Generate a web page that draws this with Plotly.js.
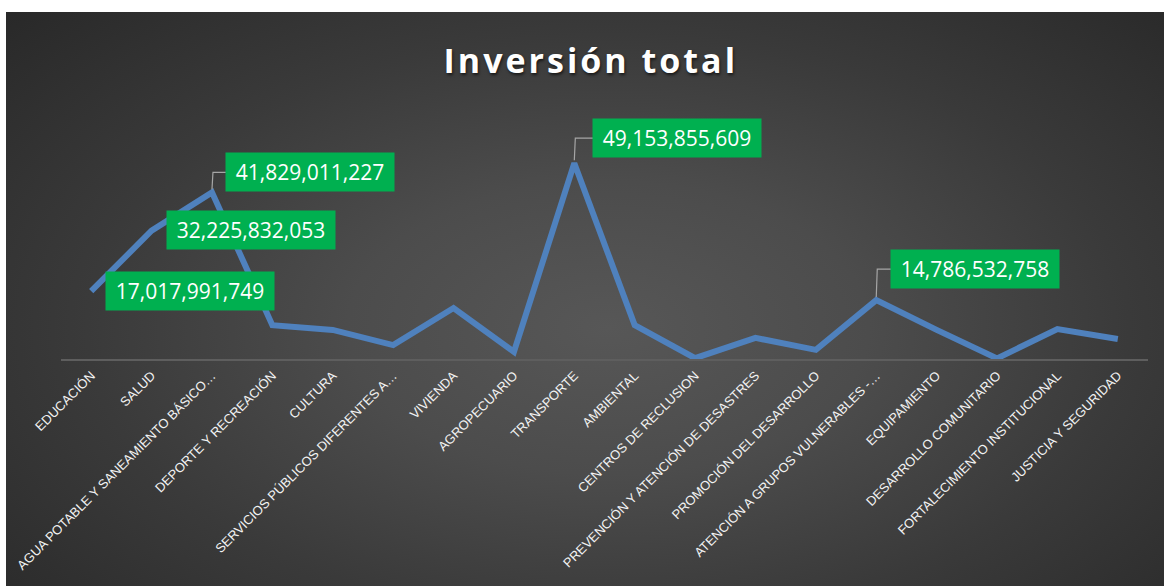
<!DOCTYPE html>
<html>
<head>
<meta charset="utf-8">
<script src="https://cdn.plot.ly/plotly-3.0.1.min.js"></script>
<style>
  html, body { margin: 0; padding: 0; background: #ffffff; width: 1165px; height: 586px; overflow: hidden; }
  #chart {
    position: absolute; left: 6px; top: 12px; width: 1158px; height: 574px;
    background: radial-gradient(ellipse 75% 85% at 52% 55%, #575757 0%, #4c4c4c 30%, #3a3a3a 60%, #262626 100%);
  }
  #chart .gtitle { letter-spacing: 3px; text-shadow: 1px 2px 3px rgba(0,0,0,0.6); }
</style>
</head>
<body>
<div id="chart"></div>
<script>
// Data
const categories = [
  "EDUCACIÓN", "SALUD", "AGUA POTABLE Y SANEAMIENTO BÁSICO…", "DEPORTE Y RECREACIÓN",
  "CULTURA", "SERVICIOS PÚBLICOS DIFERENTES A…", "VIVIENDA", "AGROPECUARIO",
  "TRANSPORTE", "AMBIENTAL", "CENTROS DE RECLUSION", "PREVENCIÓN Y ATENCIÓN DE DESASTRES",
  "PROMOCIÓN DEL DESARROLLO", "ATENCIÓN A GRUPOS VULNERABLES -…", "EQUIPAMIENTO",
  "DESARROLLO COMUNITARIO", "FORTALECIMIENTO INSTITUCIONAL", "JUSTICIA Y SEGURIDAD"
];
const values = [
  17017991749, 32225832053, 41829011227, 8500000000,
  7300000000, 3500000000, 12800000000, 1800000000,
  49153855609, 8500000000, 200000000, 5300000000,
  2300000000, 14786532758, 7300000000,
  150000000, 7500000000, 5000000000
];
// Categories that carry a data label, with label offsets (pixels) and whether a leader line is drawn
const labelCats = ["EDUCACIÓN", "SALUD", "AGUA POTABLE Y SANEAMIENTO BÁSICO…", "TRANSPORTE", "ATENCIÓN A GRUPOS VULNERABLES -…"];
const labelDx = [99, 99, 98, 103, 99];
const labelDy = [0, 1, 20, 25, 31];
const labelLeader = [false, false, true, true, true];

function fmt(v) { return v.toLocaleString('en-US'); }

const trace = {
  type: 'scatter', mode: 'lines',
  x: categories, y: values,
  line: { color: '#4F81BD', width: 6 },
  hoverinfo: 'x+y'
};

const annotations = [];
const shapes = [];
labelCats.forEach((c, i) => {
  const idx = categories.indexOf(c);
  const v = values[idx];
  annotations.push({
    x: c, y: v, xref: 'x', yref: 'y',
    text: fmt(v), showarrow: false,
    xshift: labelDx[i], yshift: labelDy[i],
    bgcolor: '#00B050', borderpad: 6, width: 156, height: 26,
    font: { family: 'Open Sans, sans-serif', size: 21, color: '#ffffff' }
  });
  if (labelLeader[i]) {
    const boxLeft = labelDx[i] - 84;
    shapes.push({
      type: 'path', xref: 'x', yref: 'y',
      xsizemode: 'pixel', ysizemode: 'pixel',
      xanchor: c, yanchor: v,
      path: 'M 0,3 L 1,' + labelDy[i] + ' L ' + boxLeft + ',' + labelDy[i],
      line: { color: '#a6a6a6', width: 1.2 }
    });
  }
});

const layout = {
  width: 1158, height: 574,
  paper_bgcolor: 'rgba(0,0,0,0)', plot_bgcolor: 'rgba(0,0,0,0)',
  margin: { l: 55, r: 16, t: 108, b: 227 },
  title: {
    text: 'Inversión total',
    font: { family: 'Open Sans, sans-serif', size: 34, color: '#ffffff', weight: 'bold' },
    x: 0.505, xanchor: 'center', y: 0.915, yanchor: 'middle'
  },
  showlegend: false,
  xaxis: {
    type: 'category', tickangle: -45,
    range: [-0.5, categories.length - 0.5],
    showline: true, linecolor: '#5e5e5e', linewidth: 2,
    showgrid: false, zeroline: false, ticks: '',
    tickfont: { family: 'Liberation Sans, Arial, sans-serif', size: 13, color: '#f2f2f2' },
    ticklabelstandoff: 2,
    fixedrange: true
  },
  yaxis: {
    range: [0, 60000000000], visible: false, showgrid: false, zeroline: false, fixedrange: true
  },
  annotations: annotations,
  shapes: shapes
};

Plotly.newPlot('chart', [trace], layout, { displayModeBar: false, staticPlot: true });
</script>
</body>
</html>
